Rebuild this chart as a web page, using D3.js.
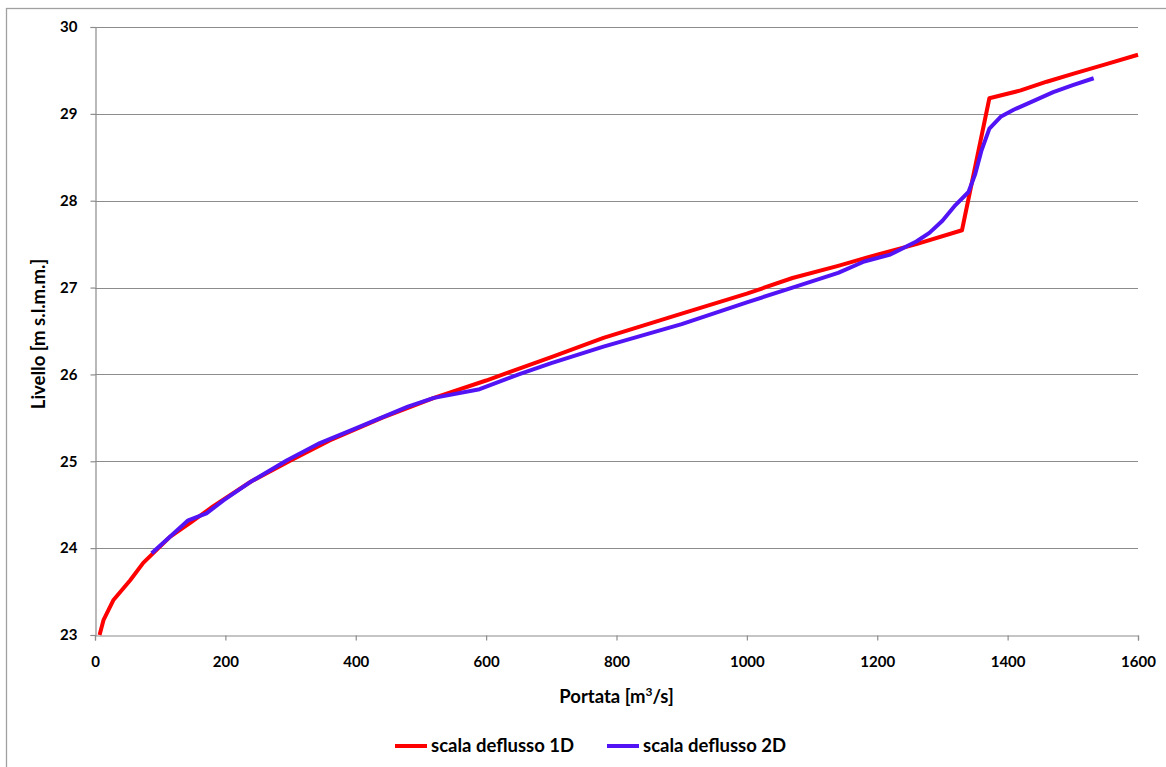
<!DOCTYPE html>
<html>
<head>
<meta charset="utf-8">
<script src="https://cdn.jsdelivr.net/npm/d3@7"></script>
<style>
  body { margin: 0; background: #fff; }
  text { font-family: Lato, "Open Sans", sans-serif; font-weight: bold; fill: #000; }
</style>
</head>
<body>
<div id="chart"></div>
<script>
const xTicks = [0, 200, 400, 600, 800, 1000, 1200, 1400, 1600];
const yTicks = [23, 24, 25, 26, 27, 28, 29, 30];

// scala deflusso 1D
const q1D = [7, 13, 28, 54, 74, 115, 146, 181, 240, 300, 360, 440, 520, 600, 700, 780, 900, 1000, 1070, 1140, 1200, 1260, 1330, 1372, 1420, 1460, 1500, 1550, 1600];
const h1D = [23.0, 23.17, 23.4, 23.63, 23.83, 24.13, 24.29, 24.48, 24.77, 25.01, 25.24, 25.5, 25.73, 25.93, 26.2, 26.42, 26.7, 26.93, 27.11, 27.25, 27.38, 27.5, 27.66, 29.18, 29.27, 29.37, 29.46, 29.57, 29.68];

// scala deflusso 2D
const q2D = [87, 143, 171, 197, 238, 294, 345, 400, 480, 520, 590, 650, 700, 780, 900, 1000, 1070, 1140, 1180, 1220, 1260, 1280, 1300, 1320, 1340, 1350, 1360, 1372, 1390, 1410, 1440, 1470, 1500, 1532];
const h2D = [23.94, 24.32, 24.4, 24.55, 24.76, 25.01, 25.21, 25.38, 25.63, 25.73, 25.83, 26.0, 26.13, 26.32, 26.58, 26.83, 27.0, 27.17, 27.3, 27.38, 27.53, 27.63, 27.77, 27.95, 28.1, 28.3, 28.58, 28.83, 28.97, 29.05, 29.15, 29.25, 29.33, 29.41];

const series = [
  { name: 'scala deflusso 1D', color: '#ff0000', q: q1D, h: h1D },
  { name: 'scala deflusso 2D', color: '#5214f5', q: q2D, h: h2D },
];

const width = 1166,
  height = 767,
  plotLeft = 95,
  plotRight = 1138,
  plotTop = 27,
  plotBottom = 635,
  tickFont = '15px',
  titleFont = '18.5px';

const svg = d3
  .select('#chart')
  .append('svg')
  .attr('width', width)
  .attr('height', height);

// outer chart frame
svg
  .append('rect')
  .attr('x', 6.5)
  .attr('y', 8.5)
  .attr('width', 1200)
  .attr('height', 800)
  .attr('fill', 'none')
  .attr('stroke', '#a0a0a0')
  .attr('stroke-width', 1.3);

const x = d3.scaleLinear().domain([0, 1600]).range([plotLeft, plotRight]);
const y = d3.scaleLinear().domain([23, 30]).range([plotBottom, plotTop]);

// grid lines
svg
  .append('g')
  .selectAll('line')
  .data(yTicks.slice(1))
  .enter()
  .append('line')
  .attr('x1', plotLeft)
  .attr('x2', plotRight)
  .attr('y1', (d) => Math.round(y(d)) + 0.5)
  .attr('y2', (d) => Math.round(y(d)) + 0.5)
  .attr('stroke', '#8c8c8c')
  .attr('stroke-width', 1.2);

const yAxis = svg
  .append('g')
  .attr('transform', `translate(${plotLeft + 0.5},0)`)
  .call(
    d3.axisLeft(y).tickValues(yTicks).tickFormat(d3.format('d')).tickSize(5).tickPadding(13)
  );

const xAxis = svg
  .append('g')
  .attr('transform', `translate(0,${Math.round(plotBottom) + 0.5})`)
  .call(
    d3.axisBottom(x).tickValues(xTicks).tickFormat(d3.format('d')).tickSize(5).tickPadding(16)
  );

[xAxis, yAxis].forEach((g) => {
  g.select('.domain').attr('stroke', '#8c8c8c').attr('stroke-width', 1.2);
  g.selectAll('.tick line').attr('stroke', '#8c8c8c').attr('stroke-width', 1.2);
  g.selectAll('text')
    .style('font-family', 'Lato, sans-serif')
    .style('font-weight', 'bold')
    .style('font-size', tickFont)
    .attr('fill', '#000');
});

// lines
const line = d3
  .line()
  .x((d) => x(d[0]))
  .y((d) => y(d[1]));

series.forEach((s) => {
  svg
    .append('path')
    .datum(s.q.map((q, i) => [q, s.h[i]]))
    .attr('d', line)
    .attr('fill', 'none')
    .attr('stroke', s.color)
    .attr('stroke-width', 4)
    .attr('stroke-linejoin', 'round');
});

// axis titles
svg
  .append('text')
  .attr('transform', `translate(45,${(plotTop + plotBottom) / 2 + 3}) rotate(-90)`)
  .attr('text-anchor', 'middle')
  .style('font-size', titleFont)
  .text('Livello [m s.l.m.m.]');

const xt = svg
  .append('text')
  .attr('x', (plotLeft + plotRight) / 2)
  .attr('y', 703)
  .attr('text-anchor', 'middle')
  .style('font-size', titleFont);
xt.append('tspan').text('Portata [m');
xt.append('tspan').attr('dy', -7).style('font-size', '12px').text('3');
xt.append('tspan').attr('dy', 7).text('/s]');

// legend
const legendX = [395, 607];
const legend = svg
  .append('g')
  .selectAll('g')
  .data(series)
  .enter()
  .append('g')
  .attr('transform', (d, i) => `translate(${legendX[i]},746)`);

legend
  .append('line')
  .attr('x1', 0)
  .attr('x2', 32)
  .attr('stroke', (d) => d.color)
  .attr('stroke-width', 4);

legend
  .append('text')
  .attr('x', 36)
  .attr('y', 6)
  .style('font-size', titleFont)
  .text((d) => d.name);
</script>
</body>
</html>
